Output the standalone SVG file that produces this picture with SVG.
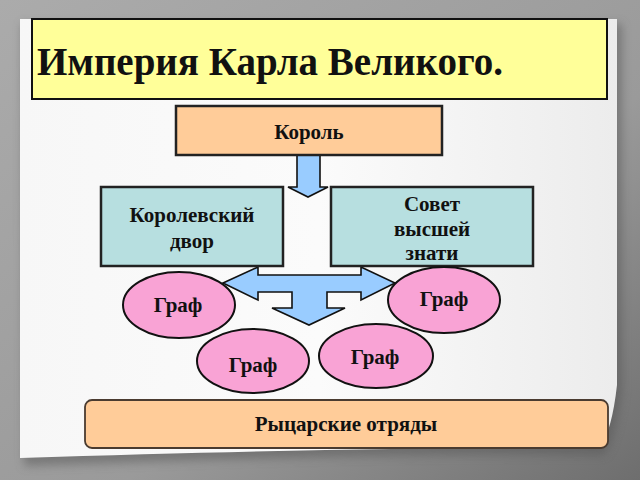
<svg xmlns="http://www.w3.org/2000/svg" width="640" height="480" viewBox="0 0 640 480">
<defs>
<linearGradient id="bg" x1="0" y1="0" x2="1" y2="1">
<stop offset="0" stop-color="#ababab"/>
<stop offset="0.6" stop-color="#9a9a9a"/>
<stop offset="1" stop-color="#6e6e6e"/>
</linearGradient>
<linearGradient id="page" x1="0" y1="0" x2="1" y2="0">
<stop offset="0" stop-color="#f7f7f7"/>
<stop offset="0.5" stop-color="#fbfbfb"/>
<stop offset="1" stop-color="#ececec"/>
</linearGradient>
<filter id="sh" x="-10%" y="-10%" width="120%" height="120%">
<feGaussianBlur stdDeviation="5"/>
</filter>
<style>
.t{font-family:"Liberation Serif","Times New Roman",serif;font-weight:bold;fill:#111;text-anchor:middle;font-size:21px}
.box{stroke:#222;stroke-width:2.5}
.graf{fill:#f9a3d5;stroke:#111;stroke-width:2}
.arrow{fill:#99ccff;stroke:#111;stroke-width:1.6;stroke-linejoin:miter}
</style>
</defs>
<rect width="640" height="480" fill="url(#bg)"/>
<path d="M22,24 L622,24 L622,390 Q616,438 604,455 Q400,452 24,466 Z" fill="#555" opacity="0.5" filter="url(#sh)"/>
<path d="M20,19 L617,19 L617,385 Q612,430 600,448 Q400,446 20,458 Z" fill="url(#page)"/>

<g id="title">
<rect x="32" y="19" width="575" height="80" fill="#ffff99" stroke="#111" stroke-width="2"/>
<text x="37" y="75" font-family="Liberation Serif, Times New Roman, serif" font-weight="bold" font-size="39" fill="#111">Империя Карла Великого.</text>
</g>

<g id="connectors">
<path class="arrow" d="M297,155 L320,155 L320,187 L328,187 L308,197 L288,187 L297,187 Z"/>
<path class="arrow" d="M223,283 L258,267 L258,275 L361,275 L361,267 L395,283 L361,300 L361,292 L327,292 L327,308 L345,308 L309,325 L272,308 L292,308 L292,292 L258,292 L258,300 Z"/>
</g>

<g id="korol">
<rect class="box" x="176" y="106" width="266" height="49" fill="#ffcc99"/>
<text class="t" x="309" y="139">Король</text>
</g>

<g id="dvor">
<rect class="box" x="101" y="187" width="182" height="79" fill="#b7dfe0"/>
<text class="t" x="192" y="222">Королевский</text>
<text class="t" x="192" y="248">двор</text>
</g>

<g id="sovet">
<rect class="box" x="331" y="187" width="202" height="79" fill="#b7dfe0"/>
<text class="t" x="432" y="211">Совет</text>
<text class="t" x="432" y="236">высшей</text>
<text class="t" x="432" y="260">знати</text>
</g>

<g id="graf1">
<ellipse class="graf" cx="179" cy="305" rx="56" ry="33"/>
<text class="t" x="178" y="312">Граф</text>
</g>
<g id="graf2">
<ellipse class="graf" cx="444" cy="300" rx="56" ry="33"/>
<text class="t" x="444" y="306">Граф</text>
</g>
<g id="graf3">
<ellipse class="graf" cx="253" cy="361" rx="56" ry="32"/>
<text class="t" x="253" y="372">Граф</text>
</g>
<g id="graf4">
<ellipse class="graf" cx="376" cy="356" rx="57" ry="32"/>
<text class="t" x="375" y="364">Граф</text>
</g>

<g id="rytsari">
<rect x="85" y="400" width="523" height="48" rx="7" fill="#ffcc99" stroke="#4a3b30" stroke-width="1.8"/>
<text class="t" x="346" y="431">Рыцарские отряды</text>
</g>
</svg>
